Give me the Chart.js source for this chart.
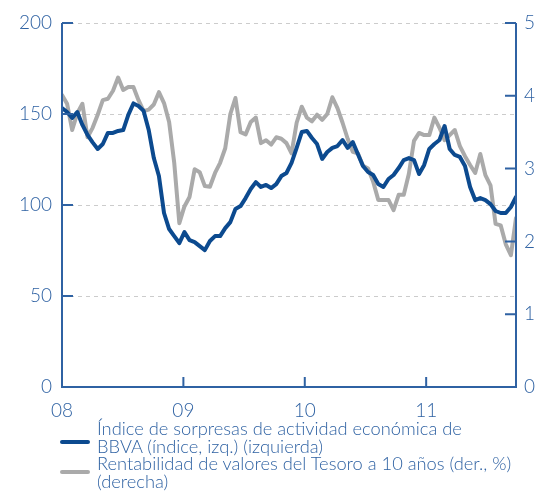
<!DOCTYPE html>
<html>
<head>
<meta charset="utf-8">
<script src="https://cdn.jsdelivr.net/npm/chart.js@4.4.1/dist/chart.umd.min.js"></script>
<style>
  html, body { margin: 0; padding: 0; background: #fff; }
  #wrap { position: relative; width: 535px; height: 492px; overflow: hidden; }
  #chart { position: absolute; left: 0; top: 0; }
  .leg { position: absolute; left: 60px; font-family: Lato, "Open Sans", sans-serif; font-weight: 300;
         font-size: 18.3px; line-height: 17.5px; color: #2f62a3; }
  .leg .sw { position: absolute; left: 0; width: 30px; height: 4px; border-radius: 2px; }
  .leg .txt { margin-left: 37px; white-space: nowrap; }
</style>
</head>
<body>
<div id="wrap">
  <canvas id="chart" width="535" height="492"></canvas>
  <div class="leg" style="top:420px">
    <div class="sw" style="top:20px;background:#0c4a8f"></div>
    <div class="txt">Índice de sorpresas de actividad económica de<br>BBVA (índice, izq.) (izquierda)</div>
  </div>
  <div class="leg" style="top:455px">
    <div class="sw" style="top:15px;background:#aaaaaa"></div>
    <div class="txt">Rentabilidad de valores del Tesoro a 10 años (der., %)<br>(derecha)</div>
  </div>
</div>
<script>
// fechas en años (ene-08 a fin de sep-11), quincenal aprox.
const fechas = Array.from({ length: 90 }, (_, i) => 2008 + i * 3.74 / 89);
const yearTicks = [2008, 2009, 2010, 2011];
const leftTicks = [0, 50, 100, 150, 200];
const rightTicks = [0, 1, 2, 3, 4, 5];

// Índice de sorpresas de actividad económica de BBVA (índice, eje izq.)
const indiceBBVA = [
  153.3, 151.1, 147.8, 151.1, 144.0, 138.5, 134.4, 130.8, 133.5, 139.6,
  139.6, 140.7, 141.2, 149.5, 155.8, 154.4, 151.7, 141.2, 125.8, 115.9,
  95.6, 86.8, 82.9, 79.1, 85.1, 80.7, 79.6, 77.4, 75.2, 80.2,
  82.9, 82.9, 87.3, 90.6, 97.8, 99.4, 103.8, 108.8, 112.6, 109.9,
  111.0, 109.3, 111.5, 115.9, 117.6, 123.1, 131.4, 140.1, 140.7, 136.8,
  133.5, 125.3, 129.1, 131.4, 132.4, 135.7, 131.4, 134.6, 128.0, 121.4,
  118.1, 116.5, 111.5, 109.9, 114.3, 116.5, 120.3, 124.7, 125.8, 124.7,
  117.0, 122.0, 130.8, 133.5, 135.7, 143.4, 130.8, 127.5, 126.4, 121.4,
  109.9, 102.7, 103.8, 102.7, 100.5, 96.7, 95.6, 95.6, 98.9, 104.4
];

// Rentabilidad de valores del Tesoro a 10 años (%, eje der.)
const rentabilidad10a = [
  4.01, 3.89, 3.53, 3.76, 3.89, 3.43, 3.56, 3.74, 3.94, 3.96,
  4.07, 4.25, 4.08, 4.12, 4.12, 3.94, 3.79, 3.81, 3.88, 4.05,
  3.90, 3.64, 3.08, 2.25, 2.48, 2.61, 2.99, 2.95, 2.76, 2.75,
  2.94, 3.08, 3.28, 3.75, 3.97, 3.50, 3.47, 3.64, 3.70, 3.35,
  3.39, 3.33, 3.43, 3.41, 3.35, 3.21, 3.63, 3.85, 3.70, 3.65,
  3.74, 3.67, 3.75, 3.98, 3.83, 3.63, 3.41, 3.23, 3.21, 3.04,
  3.00, 2.82, 2.57, 2.57, 2.57, 2.43, 2.64, 2.64, 2.93, 3.38,
  3.49, 3.46, 3.46, 3.70, 3.56, 3.39, 3.46, 3.53, 3.31, 3.17,
  3.05, 2.94, 3.20, 2.91, 2.77, 2.24, 2.22, 1.96, 1.81, 2.32
];

const AXIS = '#2f62a3';
const tickFont = { family: 'Lato, "Open Sans", sans-serif', size: 19, weight: 300 };

// rejilla discontinua, ejes y marcas hacia dentro
const axisPlugin = {
  id: 'axisLines',
  beforeDatasetsDraw(chart) {
    const { ctx, chartArea: a, scales } = chart;
    ctx.save();
    ctx.strokeStyle = '#cccccc';
    ctx.lineWidth = 1;
    ctx.setLineDash([4, 4]);
    ctx.beginPath();
    leftTicks.slice(1).forEach(v => {
      const y = Math.round(scales.y.getPixelForValue(v)) + 0.5;
      ctx.moveTo(a.left, y); ctx.lineTo(a.right, y);
    });
    ctx.stroke();
    ctx.restore();
  },
  afterDatasetsDraw(chart) {
    const { ctx, chartArea: a, scales } = chart;
    ctx.save();
    ctx.strokeStyle = AXIS;
    ctx.lineWidth = 2;
    ctx.beginPath();
    ctx.moveTo(a.left, a.top); ctx.lineTo(a.left, a.bottom); ctx.lineTo(a.right, a.bottom); ctx.lineTo(a.right, a.top);
    leftTicks.forEach(v => {
      const y = scales.y.getPixelForValue(v);
      ctx.moveTo(a.left, y); ctx.lineTo(a.left + 11, y);
    });
    rightTicks.forEach(v => {
      const y = scales.y1.getPixelForValue(v);
      ctx.moveTo(a.right, y); ctx.lineTo(a.right - 11, y);
    });
    yearTicks.forEach(v => {
      const x = scales.x.getPixelForValue(v);
      ctx.moveTo(x, a.bottom); ctx.lineTo(x, a.bottom - 10);
    });
    ctx.stroke();
    ctx.restore();
  }
};

new Chart(document.getElementById('chart'), {
  type: 'line',
  data: {
    datasets: [
      {
        label: 'Índice de sorpresas de actividad económica de BBVA (índice, izq.) (izquierda)',
        data: fechas.map((f, i) => ({ x: f, y: indiceBBVA[i] })),
        borderColor: '#0c4a8f',
        borderWidth: 4,
        pointRadius: 0,
        borderJoinStyle: 'round',
        borderCapStyle: 'round',
        yAxisID: 'y',
      },
      {
        label: 'Rentabilidad de valores del Tesoro a 10 años (der., %) (derecha)',
        data: fechas.map((f, i) => ({ x: f, y: rentabilidad10a[i] })),
        borderColor: '#aaaaaa',
        borderWidth: 4,
        pointRadius: 0,
        borderJoinStyle: 'round',
        borderCapStyle: 'round',
        yAxisID: 'y1',
      },
    ],
  },
  options: {
    responsive: false,
    animation: false,
    devicePixelRatio: 1,
    layout: { padding: { top: 23, left: 0, right: 0, bottom: 0 } },
    plugins: { legend: { display: false }, tooltip: { enabled: false } },
    scales: {
      x: {
        type: 'linear',
        min: 2008,
        max: 2011.74,
        afterBuildTicks: s => { s.ticks = yearTicks.map(v => ({ value: v })); },
        afterFit: s => { s.height = 105; },
        ticks: {
          color: AXIS, font: tickFont, padding: 12, maxRotation: 0,
          callback: v => String(v).slice(2),
        },
        grid: { display: false, drawTicks: false },
        border: { display: false },
      },
      y: {
        position: 'left',
        min: 0, max: 200,
        afterBuildTicks: s => { s.ticks = leftTicks.map(v => ({ value: v })); },
        afterFit: s => { s.width = 62; },
        ticks: { color: AXIS, font: tickFont, padding: 10 },
        grid: { display: false, drawTicks: false },
        border: { display: false },
      },
      y1: {
        position: 'right',
        min: 0, max: 5,
        afterBuildTicks: s => { s.ticks = rightTicks.map(v => ({ value: v })); },
        afterFit: s => { s.width = 19; },
        ticks: { color: AXIS, font: tickFont, padding: 8 },
        grid: { display: false, drawTicks: false },
        border: { display: false },
      },
    },
  },
  plugins: [axisPlugin],
});
</script>
</body>
</html>
